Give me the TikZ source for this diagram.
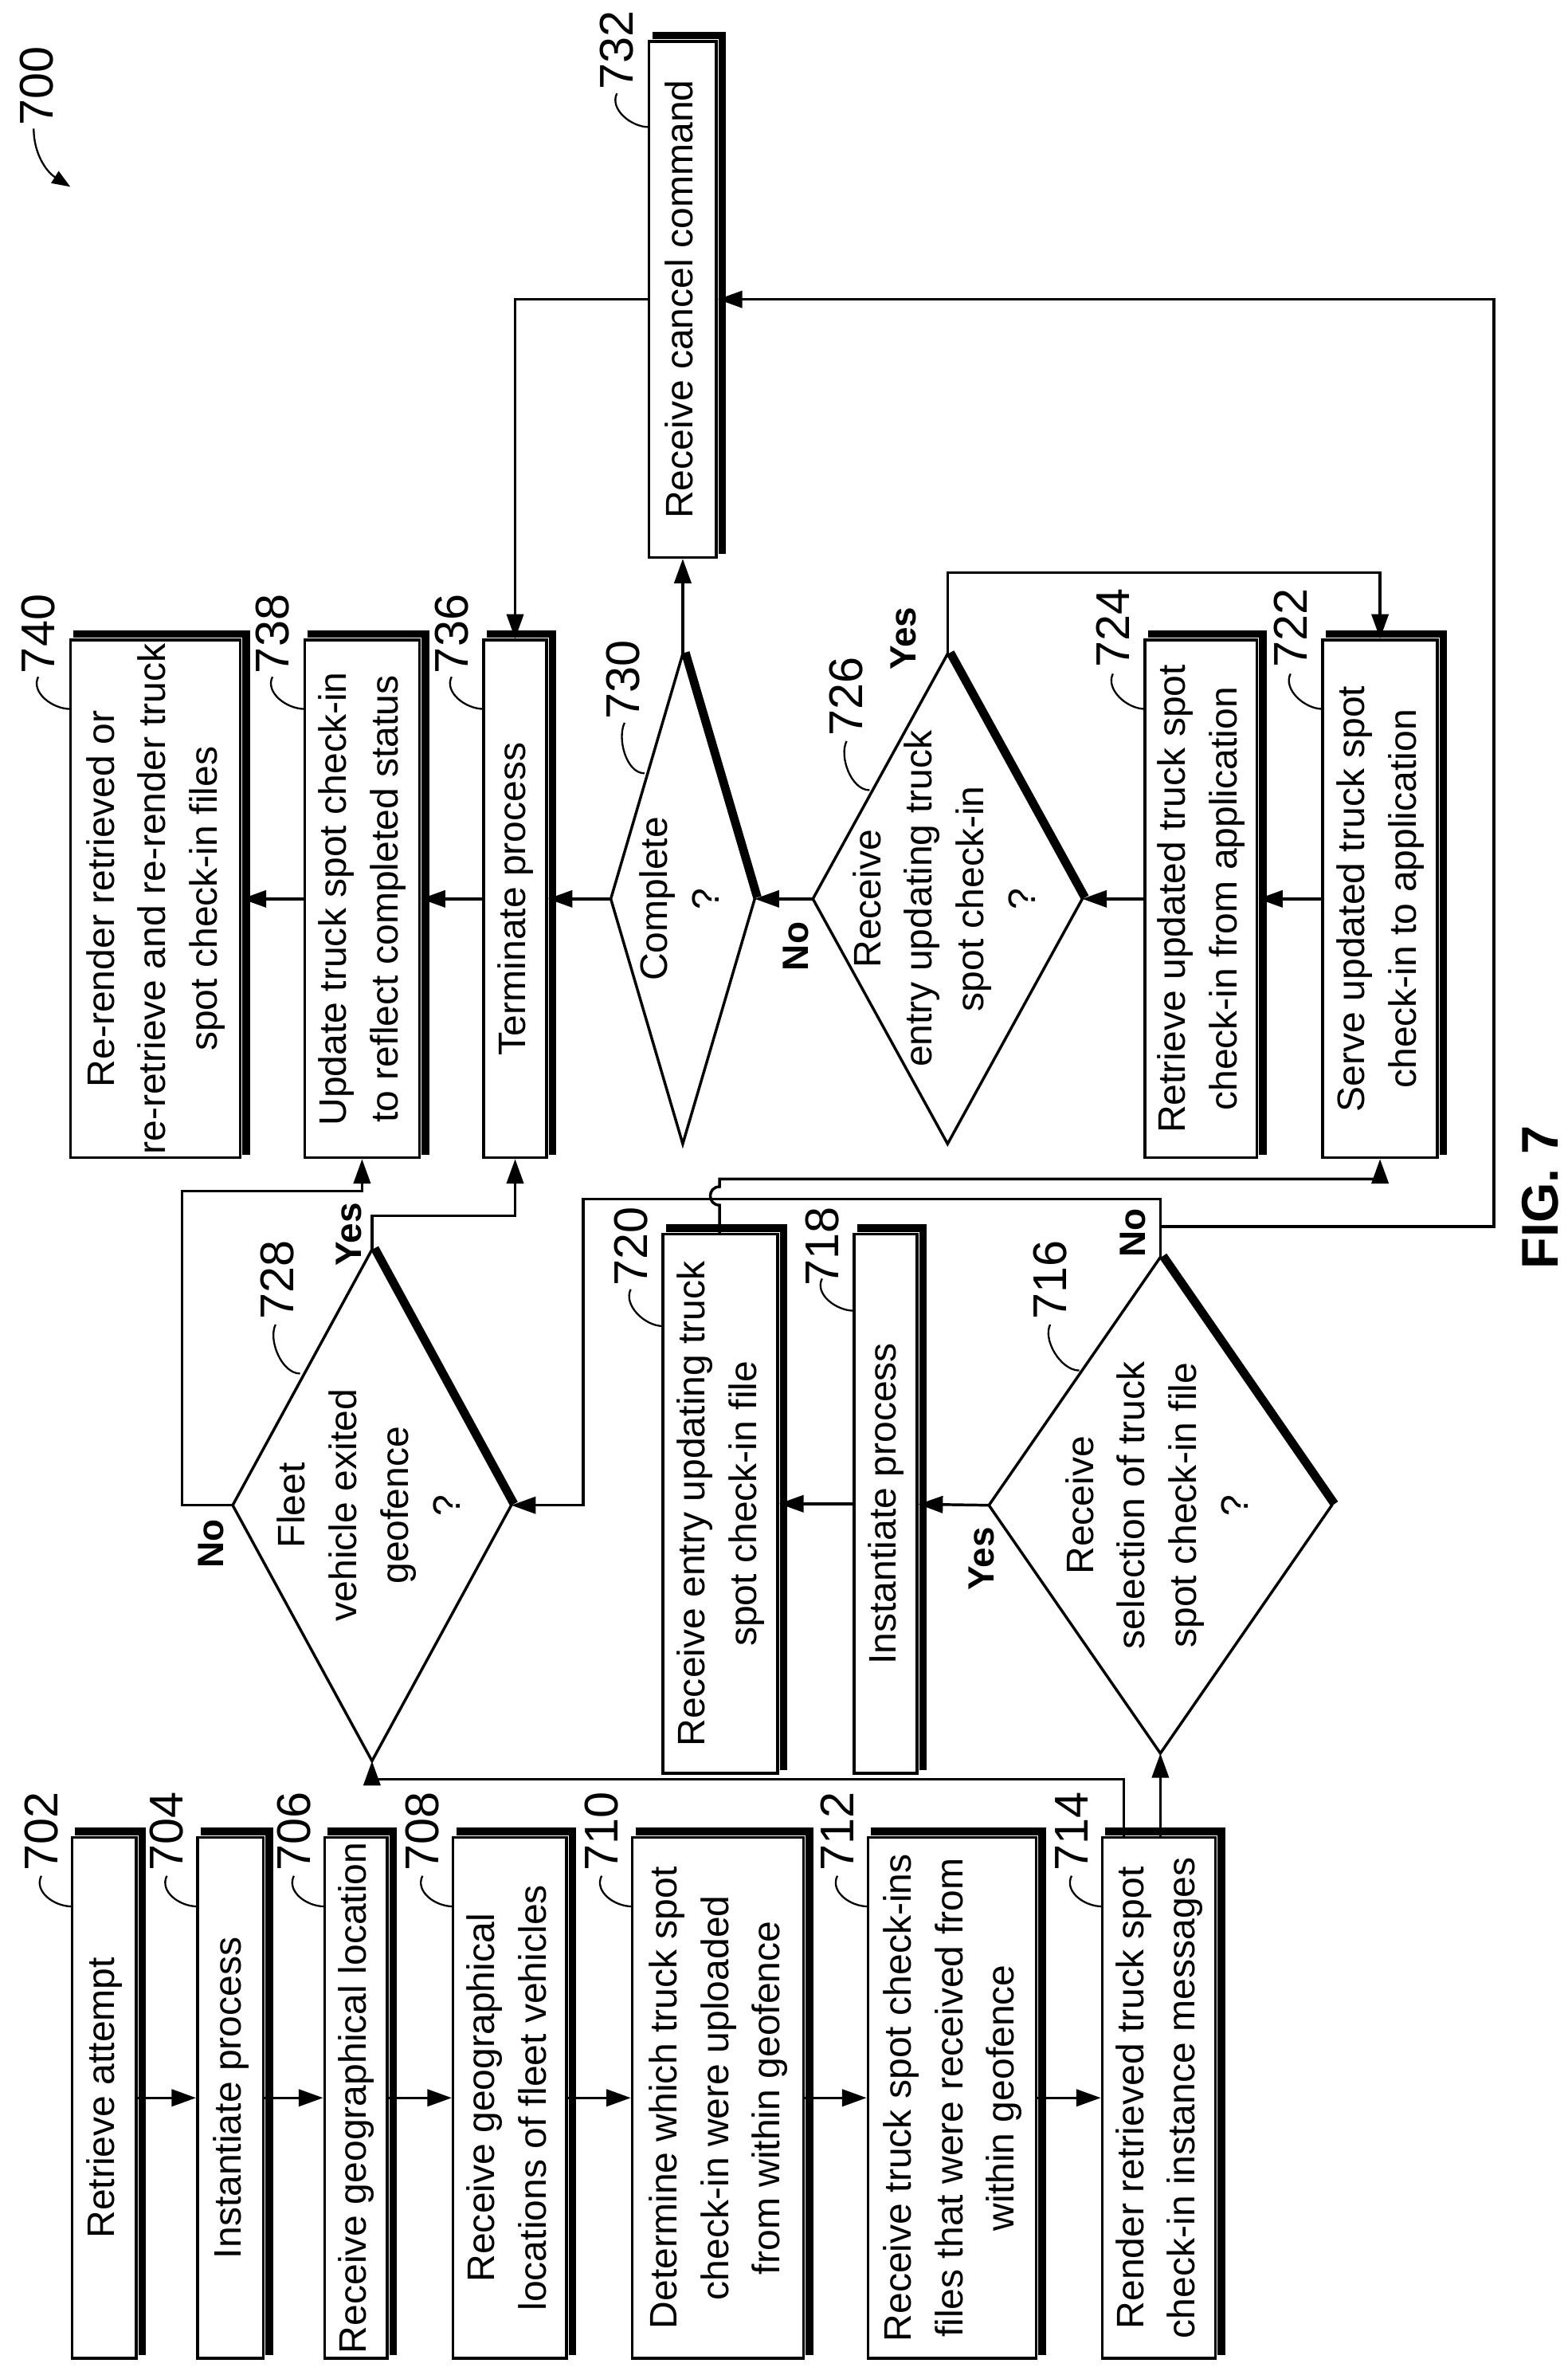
\documentclass[tikz,border=0pt]{standalone}
\usepackage{fontspec}
\setmainfont{Liberation Sans}
\usetikzlibrary{arrows.meta,calc}
\newcommand\mybox[6]{%
 \pgfmathsetmacro\cx{(#2+#3)/2}\pgfmathsetmacro\cy{(#4+#5)/2}%
 \pgfmathsetmacro\ww{(#3-#2)*0.5}\pgfmathsetmacro\hh{(#5-#4)*0.5}%
 \node[box, minimum width=\ww mm, minimum height=\hh mm] (#1) at (\cx,\cy) {\rotatebox{90}{\begin{tabular}{@{}c@{}}#6\end{tabular}}};
 \draw[shadow] ($(#1.north west)+(3,-3)$) -- ($(#1.north east)+(3,-3)$) -- ($(#1.south east)+(3,-3)$);
}
\newcommand\mydia[6]{%
 \coordinate (#1-t) at (#2,#3-#5);
 \coordinate (#1-b) at (#2,#3+#5);
 \coordinate (#1-l) at (#2-#4,#3);
 \coordinate (#1-r) at (#2+#4,#3);
 \draw[thin line] (#1-t) -- (#1-r) -- (#1-b) -- (#1-l) -- cycle;
 \draw[shadow] ($(#1-t)+(2,-1)$) -- ($(#1-r)+(2,-1)$);
 \node[txt] (#1) at (#2,#3) {\rotatebox{90}{\begin{tabular}{@{}c@{}}#6\end{tabular}}};
}
\newcommand\lead[5]{% name, label center x,y, curve start, curve end
 \node[lab] (#1) at (#2) {\rotatebox{90}{#3}};
 \draw[leader] (#4) .. controls ($(#4)+(-5,10)$) and ($(#5)+(-12,0)$) .. (#5);
}
\begin{document}
\begin{tikzpicture}[x=0.5mm,y=-0.5mm,
 thin line/.style={line width=1.8*0.5mm/1},
 box/.style={draw,line width=0.9mm,inner sep=0pt,font=\fontsize{35.6pt}{48pt}\selectfont},
 txt/.style={inner sep=0pt,font=\fontsize{35.6pt}{48pt}\selectfont},
 shadow/.style={line width=2.5mm},
 lab/.style={inner sep=0pt,font=\fontsize{44pt}{48pt}\selectfont},
 yn/.style={inner sep=0pt,font=\fontsize{34pt}{40pt}\selectfont\bfseries},
 leader/.style={line width=0.6mm},
 arr/.style={line width=0.9mm,-{Triangle[length=8mm,width=5.5mm]}},
 thin line/.style={line width=0.9mm}]
\useasboundingbox (0,0) rectangle (1024,1551);

% bottom row
\mybox{b702}{47}{89}{1200}{1540}{Retrieve attempt}
\mybox{b704}{129}{172}{1200}{1540}{Instantiate process}
\mybox{b706}{212}{253}{1200}{1540}{Receive geographical location}
\mybox{b708}{296}{370}{1200}{1540}{Receive geographical\\locations of fleet vehicles}
\mybox{b710}{413}{525}{1200}{1540}{Determine which truck spot\\check-in were uploaded\\from within geofence}
\mybox{b712}{567}{677}{1200}{1540}{Receive truck spot check-ins\\files that were received from\\within geofence}
\mybox{b714}{720}{794}{1200}{1540}{Render retrieved truck spot\\check-in instance messages}

% top row
\mybox{b740}{46}{157}{418}{756}{Re-render retrieved or\\re-retrieve and re-render truck\\spot check-in files}
\mybox{b738}{199}{274}{418}{756}{Update truck spot check-in\\to reflect completed status}
\mybox{b736}{316}{357}{418}{756}{Terminate process}
\mybox{b732}{424}{468}{27}{364}{Receive cancel command}
\mybox{b724}{748}{821}{418}{756}{Retrieve updated truck spot\\check-in from application}
\mybox{b722}{864}{939}{418}{756}{Serve updated truck spot\\check-in to application}

% middle row
\mybox{b720}{433}{508}{806}{1158}{Receive entry updating truck\\spot check-in file}
\mybox{b718}{558}{599}{806}{1158}{Instantiate process}

% diamonds
\mydia{d730}{446}{587}{47}{160}{Complete\\?}
\mydia{d726}{619}{587}{88}{160}{Receive\\entry updating truck\\spot check-in\\?}
\mydia{d728}{243}{983}{91}{167}{Fleet\\vehicle exited\\geofence\\?}
\mydia{d716}{758}{983}{112}{162}{Receive\\selection of truck\\spot check-in file\\?}

% reference numerals
\lead{l702}{27,1196}{702}{27,1225}{47,1245}
\lead{l704}{109,1196}{704}{109,1225}{129,1245}
\lead{l706}{192,1196}{706}{192,1225}{212,1245}
\lead{l708}{276,1196}{708}{276,1225}{296,1245}
\lead{l710}{393,1196}{710}{393,1225}{413,1245}
\lead{l712}{547,1196}{712}{547,1225}{567,1245}
\lead{l714}{700,1196}{714}{700,1225}{720,1245}
\lead{l740}{25,414}{740}{25,442}{46,463}
\lead{l738}{178,414}{738}{178,442}{199,463}
\lead{l736}{295,414}{736}{295,442}{316,463}
\lead{l732}{403,33}{732}{403,61}{424,83}
\lead{l724}{727,410}{724}{727,440}{748,463}
\lead{l722}{843,410}{722}{843,440}{864,463}
\lead{l720}{412,814}{720}{412,842}{433,866}
\lead{l718}{537,814}{718}{537,835}{558,856}
\lead{l730}{407,444}{730}{408,472}{421,505}
\lead{l726}{553,455}{726}{553,484}{568,516}
\lead{l728}{181,836}{728}{180,865}{196,897}
\lead{l716}{686,836}{716}{686,865}{705,895}

\node[lab] (l700) at (24,56) {\rotatebox{90}{700}};
\coordinate (a700) at (46,122);
\draw[leader,-{Triangle[length=6mm,width=4.5mm]}] (22,84) .. controls (22,100) and (30,112) .. (a700);

% Yes / No labels
\node[yn] (y726) at (590,417) {\rotatebox{90}{Yes}};
\node[yn] (n726) at (520,618) {\rotatebox{90}{No}};
\node[yn] (y728) at (228,806) {\rotatebox{90}{Yes}};
\node[yn] (n728) at (138,1008) {\rotatebox{90}{No}};
\node[yn] (y716) at (641,1018) {\rotatebox{90}{Yes}};
\node[yn] (n716) at (740,805) {\rotatebox{90}{No}};
\node[inner sep=0pt,font=\fontsize{48pt}{52pt}\selectfont\bfseries] (fig) at (1006,782) {\rotatebox{90}{FIG. 7}};

% connectors bottom row
\draw[arr] (b702) -- (b704);
\draw[arr] (b704) -- (b706);
\draw[arr] (b706) -- (b708);
\draw[arr] (b708) -- (b710);
\draw[arr] (b710) -- (b712);
\draw[arr] (b712) -- (b714);
\draw[arr] ($(b714.north west)+(15,0)$) |- ($(d728-b)+(0,12)$) -- (d728-b);
\draw[arr] (b714.north -| d716-b) -- (d716-b);

% middle
\draw[arr] (d716-l) -- (b718);
\draw[arr] (b718) -- (b720);
\draw[arr] (b720.north -| 470,0) -- (470,787) .. controls (462,787) and (462,775) .. (470,775) -- (470,770) -| (b722.south);
\draw[arr] (d716-t) -- ($(d716-t)+(0,-38)$) -| ($(d728-r)+(47,0)$) -- (d728-r);
\draw[arr] ($(d716-t)+(0,-20)$) -| ($(b732.east)+(507,0)$) -- (b732.east);

% top
\draw[arr] (b722) -- (b724);
\draw[arr] (b724) -- (d726-r);
\draw[arr] (d726-l) -- (d730-r);
\draw[arr] (d730-l) -- (b736);
\draw[arr] (b736) -- (b738);
\draw[arr] (b738) -- (b740);
\draw[arr] (d726-t) -- ($(d726-t)+(0,-53)$) -| (b722.north);
\draw[arr] (d730-t) -- (b732.south);
\draw[arr] (b732.west) -| (b736.north);
\draw[arr] (d728-t) -- ($(d728-t)+(0,-22)$) -| (b736.south);
\draw[arr] (d728-l) -- ($(d728-l)+(-33,0)$) |- ($(b738.south)+(0,21)$) -- (b738.south);
\end{tikzpicture}
\end{document}
